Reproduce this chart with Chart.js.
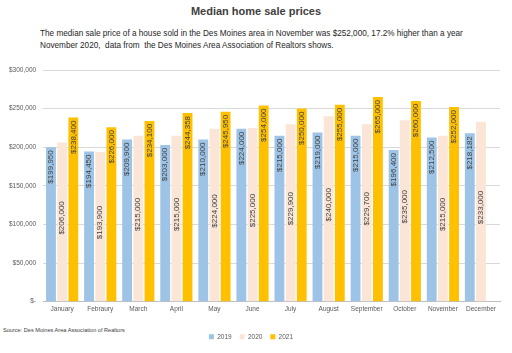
<!DOCTYPE html>
<html>
<head>
<meta charset="utf-8">
<script src="https://cdn.jsdelivr.net/npm/chart.js@4"></script>
<style>
  html, body { margin: 0; padding: 0; background: #fff; }
  #wrap { position: relative; width: 512px; height: 353px; overflow: hidden; font-family: "Liberation Sans", Arial, sans-serif; }
  #chart { position: absolute; left: 0; top: 0; }
  .title { position: absolute; left: 0; width: 512px; top: 5px; text-align: center; font-weight: bold; font-size: 11px; color: #404040; }
  .sub { position: absolute; left: 40px; top: 28px; width: 470px; font-size: 8.2px; line-height: 11.5px; color: #262626; }
  .src { position: absolute; left: 3px; top: 327px; font-size: 5.6px; color: #404040; }
</style>
</head>
<body>
<div id="wrap">
  <div class="title">Median home sale prices</div>
  <div class="sub">The median sale price of a house sold in the Des Moines area in November was $252,000, 17.2% higher than a year<br>November 2020,&nbsp; data from&nbsp; the Des Moines Area Association of Realtors shows.</div>
  <div class="src">Source: Des Moines Area Association of Realtors</div>
  <canvas id="chart" width="512" height="353"></canvas>
</div>
<script>
// 数据
const months = ['January', 'Febraury', 'March', 'April', 'May', 'June', 'July', 'August', 'September', 'October', 'November', 'December'];
const years = ['2019', '2020', '2021'];
const prices2019 = [199950, 194450, 209900, 203000, 210000, 224000, 215000, 219000, 215000, 196400, 212500, 218182];
const prices2020 = [206000, 193900, 215000, 215000, 224000, 225000, 229900, 240000, 229700, 235000, 215000, 233000];
const prices2021 = [238400, 226000, 234100, 244358, 245950, 254000, 250000, 255000, 265000, 260000, 252000, null];
const yTicks = [0, 50000, 100000, 150000, 200000, 250000, 300000];

const colors = ['#9DC3E6', '#FBE5D6', '#FFC000'];
const fmt = v => '$' + v.toLocaleString('en-US');

// 柱内竖排标签：2019/2021 贴顶，2020 居中
const barLabels = {
  id: 'barLabels',
  afterDatasetsDraw(chart) {
    const ctx = chart.ctx;
    ctx.save();
    ctx.font = '8px "Liberation Sans", Arial, sans-serif';
    ctx.fillStyle = '#404040';
    ctx.textBaseline = 'middle';
    chart.data.datasets.forEach((ds, di) => {
      const meta = chart.getDatasetMeta(di);
      meta.data.forEach((bar, i) => {
        const v = ds.data[i];
        if (v == null) return;
        ctx.save();
        if (di === 1) {
          ctx.translate(bar.x, (bar.y + bar.base) / 2 - 4);
          ctx.rotate(-Math.PI / 2);
          ctx.textAlign = 'center';
        } else {
          ctx.translate(bar.x, bar.y + 3);
          ctx.rotate(-Math.PI / 2);
          ctx.textAlign = 'right';
        }
        ctx.fillText(fmt(v), 0, 0);
        ctx.restore();
      });
    });
    ctx.restore();
  }
};

new Chart(document.getElementById('chart'), {
  type: 'bar',
  data: {
    labels: months,
    datasets: [
      { label: years[0], data: prices2019, backgroundColor: colors[0] },
      { label: years[1], data: prices2020, backgroundColor: colors[1] },
      { label: years[2], data: prices2021, backgroundColor: colors[2] }
    ]
  },
  options: {
    responsive: false,
    animation: false,
    layout: { padding: { top: 70, left: 2, right: 12, bottom: 3 } },
    datasets: { bar: { barPercentage: 0.88, categoryPercentage: 0.88 } },
    scales: {
      x: {
        grid: { display: false, drawTicks: false },
        border: { color: '#BFBFBF' },
        ticks: { color: '#595959', font: { size: 6.5, family: '"Liberation Sans", Arial, sans-serif' }, padding: 4, maxRotation: 0, autoSkip: false },
        afterFit: axis => { axis.height += 8; }
      },
      y: {
        min: 0,
        max: 300000,
        afterBuildTicks: axis => { axis.ticks = yTicks.map(v => ({ value: v })); },
        grid: { color: '#D9D9D9', drawTicks: false },
        border: { display: false },
        ticks: {
          color: '#595959',
          font: { size: 6.5, family: '"Liberation Sans", Arial, sans-serif' },
          padding: 7,
          callback: v => v === 0 ? '$-' : fmt(v)
        }
      }
    },
    plugins: {
      legend: {
        position: 'bottom',
        labels: { boxWidth: 5, boxHeight: 5, padding: 8, color: '#595959', font: { size: 6.5, family: '"Liberation Sans", Arial, sans-serif' } }
      },
      tooltip: { enabled: false }
    }
  },
  plugins: [barLabels]
});
</script>
</body>
</html>
